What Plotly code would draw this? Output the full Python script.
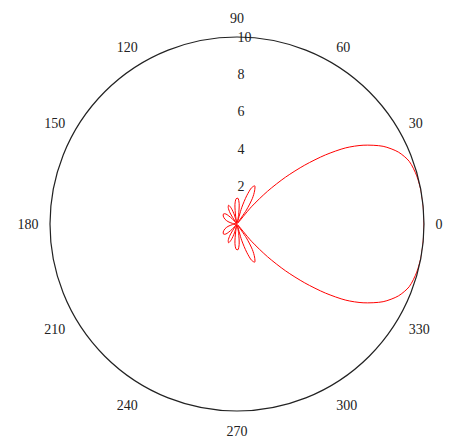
import plotly.graph_objects as go

# Radiation pattern (linear magnitude) sampled around the full circle, degrees
theta_deg = [
    0, 5, 10, 15, 20, 24, 28, 32, 35, 38, 41, 44, 47, 50, 53,
    56, 59, 62, 65, 68, 71, 74, 77,
    80, 84, 88, 92, 96, 100, 102,
    106, 110, 114, 118, 122, 126, 128,
    133, 138, 143, 150, 158, 165, 172, 180,
    188, 195, 202, 210, 217, 222, 227,
    232, 234, 238, 242, 246, 250, 254,
    258, 260, 264, 268, 272, 276, 280,
    283, 286, 289, 292, 295, 298, 301, 304,
    307, 310, 313, 316, 319, 322, 325, 328, 332, 336, 340, 345, 350, 355, 360,
]
magnitude = [
    10.0, 10.0, 10.0, 9.95, 9.8, 9.45, 8.85, 7.95, 7.1, 6.0, 4.8, 3.6, 2.4, 1.2, 0.05,
    0.9, 1.6, 2.0, 2.25, 2.1, 1.6, 0.9, 0.1,
    0.5, 1.1, 1.38, 1.35, 1.05, 0.4, 0.05,
    0.5, 0.9, 1.1, 1.0, 0.7, 0.15, 0.05,
    0.4, 0.8, 0.9, 0.85, 0.7, 0.5, 0.25, 0.0,
    0.25, 0.5, 0.7, 0.85, 0.9, 0.8, 0.4,
    0.05, 0.15, 0.7, 1.0, 1.1, 0.9, 0.5,
    0.05, 0.4, 1.05, 1.35, 1.38, 1.1, 0.5,
    0.1, 0.9, 1.6, 2.1, 2.25, 2.0, 1.6, 0.9,
    0.05, 1.2, 2.4, 3.6, 4.8, 6.0, 7.1, 7.95, 8.85, 9.45, 9.8, 9.95, 10.0, 10.0, 10.0,
]

radial_ticks = [2, 4, 6, 8, 10]
angle_ticks = [0, 30, 60, 90, 120, 150, 180, 210, 240, 270, 300, 330]

fig = go.Figure()
fig.add_trace(go.Scatterpolar(
    theta=theta_deg,
    r=magnitude,
    mode="lines",
    line=dict(color="#ff0000", width=1, shape="spline", smoothing=0.8),
    showlegend=False,
    hoverinfo="skip",
))

fig.update_layout(
    width=452,
    height=439,
    margin=dict(l=50, r=28, t=37, b=28),
    paper_bgcolor="white",
    plot_bgcolor="white",
    font=dict(family="Liberation Serif", size=14, color="#222222"),
    polar=dict(
        bgcolor="white",
        domain=dict(x=[0, 1], y=[0, 1]),
        radialaxis=dict(
            range=[0, 10],
            tickvals=radial_ticks,
            ticktext=[str(v) for v in radial_ticks],
            angle=90,
            tickangle=90,
            showgrid=False,
            showline=False,
            ticks="",
            tickfont=dict(family="Liberation Serif", size=14, color="#222222"),
        ),
        angularaxis=dict(
            rotation=0,
            direction="counterclockwise",
            tickvals=angle_ticks,
            ticktext=[str(v) for v in angle_ticks],
            showgrid=False,
            showline=True,
            linecolor="#222222",
            linewidth=1.2,
            ticks="outside",
            ticklen=8,
            tickcolor="rgba(0,0,0,0)",
            tickfont=dict(family="Liberation Serif", size=14, color="#222222"),
        ),
    ),
)

fig.write_html("out.html")
